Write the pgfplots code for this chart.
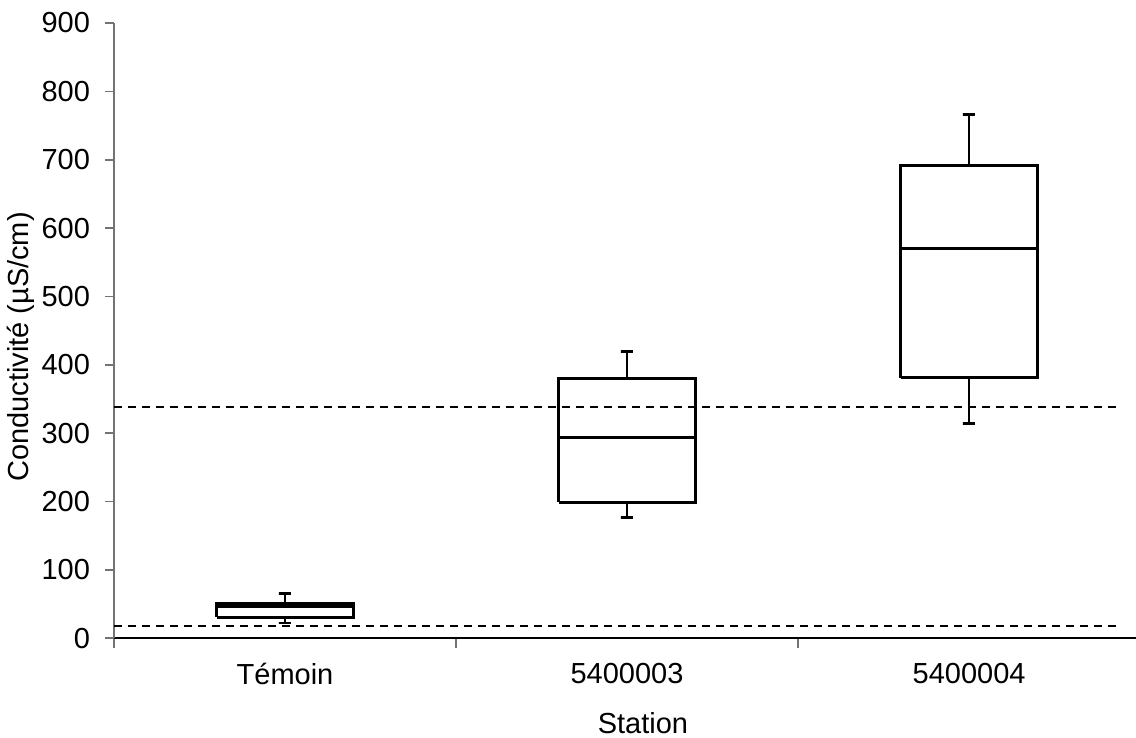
\documentclass[border=0pt]{standalone}
\usepackage{fontspec}
\setmainfont{Liberation Sans}
\usepackage{pgfplots}
\pgfplotsset{compat=1.18}

\begin{document}
\begin{tikzpicture}
\useasboundingbox (-57pt,-49.85pt) rectangle (511pt,319.15pt);
\begin{axis}[
  scale only axis, width=511pt, height=307.65pt,
  xmin=0.5, xmax=3.488, ymin=0, ymax=900,
  axis x line=bottom, axis y line=left, axis line style={-},
  x axis line style={black, line width=0.8pt},
  y axis line style={black!55, line width=0.8pt},
  xtick={1,2,3}, xticklabels={Témoin,5400003,5400004},
  major x tick style={draw=none},
  minor xtick={0.5,1.5,2.5}, minor x tick style={black!55, line width=0.8pt},
  minor tick length=5pt,
  ytick={0,100,...,900}, ytick style={black!55, line width=0.8pt},
  tick align=outside, major tick length=4.5pt,
  font=\fontsize{14.5}{17}\selectfont,
  /pgf/number format/assume math mode=true,
  yticklabel style={anchor=east, xshift=-4pt},
  xticklabel style={yshift=-4.5pt},
  xlabel={Station}, ylabel={Conductivité (µS/cm)},
  xlabel style={at={(axis description cs:0.5176,-0.1385)}, anchor=center},
  ylabel style={at={(axis description cs:-0.091,0.4734)}, anchor=center},
  bx/.style={black, solid, line width=1.4pt, line join=miter, mark=none},
]

% Témoin : min 22.4, Q1 30.7, med 47, Q3 51, max 65
\addplot[bx] coordinates {(1,51) (1,65) (0.982,65) (1.018,65)};
\addplot[bx] coordinates {(1,30.7) (1,22.4) (0.982,22.4) (1.018,22.4)};
\addplot[bx, fill=white] coordinates {(0.8,30.7) (1.2,30.7) (1.2,51) (0.8,51) (0.8,30.7)};
\addplot[bx] coordinates {(0.8,47) (1.2,47)};

% 5400003 : min 176.4, Q1 198.9, med 293.4, Q3 380.3, max 419.2
\addplot[bx] coordinates {(2,380.3) (2,419.2) (1.982,419.2) (2.018,419.2)};
\addplot[bx] coordinates {(2,198.9) (2,176.4) (1.982,176.4) (2.018,176.4)};
\addplot[bx, fill=white] coordinates {(1.8,198.9) (2.2,198.9) (2.2,380.3) (1.8,380.3) (1.8,198.9)};
\addplot[bx] coordinates {(1.8,293.4) (2.2,293.4)};

% 5400004 : min 313.9, Q1 381.2, med 570.4, Q3 691.8, max 766.4
\addplot[bx] coordinates {(3,691.8) (3,766.4) (2.982,766.4) (3.018,766.4)};
\addplot[bx] coordinates {(3,381.2) (3,313.9) (2.982,313.9) (3.018,313.9)};
\addplot[bx, fill=white] coordinates {(2.8,381.2) (3.2,381.2) (3.2,691.8) (2.8,691.8) (2.8,381.2)};
\addplot[bx] coordinates {(2.8,570.4) (3.2,570.4)};

% seuils
\addplot[black, line width=1pt, dash pattern=on 4pt off 3pt] coordinates {(0.5,337.9) (3.44,337.9)};
\addplot[black, line width=1pt, dash pattern=on 4pt off 3pt] coordinates {(0.5,17.5) (3.44,17.5)};

\end{axis}
\end{tikzpicture}
\end{document}
